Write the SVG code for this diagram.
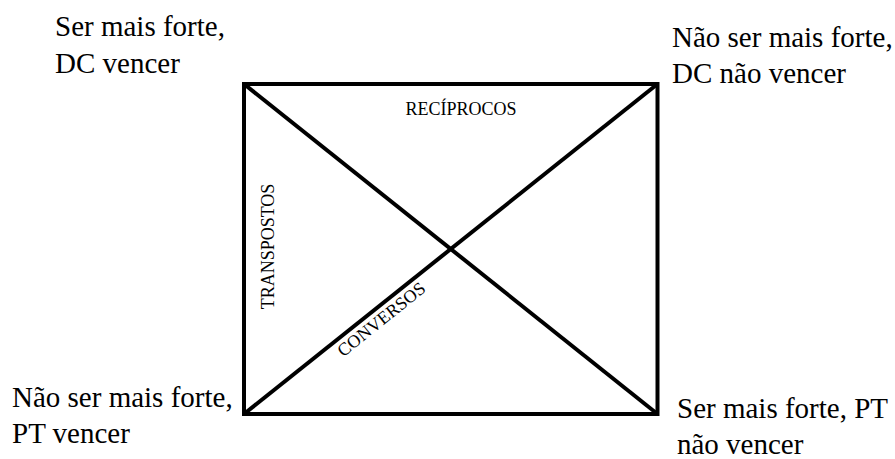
<svg xmlns="http://www.w3.org/2000/svg" width="895" height="459" viewBox="0 0 895 459">
<style>
text{font-family:"Liberation Serif","Times New Roman",Times,serif;fill:#000}
.lbl{font-size:29px}
.sm{font-size:18px}
.ln{stroke:#000;stroke-width:4;fill:none}
</style>
<rect width="895" height="459" fill="#fff"/>
<g id="connectors">
<rect class="ln" x="244" y="84" width="413.5" height="330"/>
<line class="ln" x1="244" y1="84" x2="657.5" y2="414"/>
<line class="ln" x1="244" y1="414" x2="657.5" y2="84"/>
</g>
<g id="n-top-left"><text class="lbl" x="55" y="36">Ser mais forte,</text><text class="lbl" x="55" y="73">DC vencer</text></g>
<g id="n-top-right"><text class="lbl" x="672" y="47">Não ser mais forte,</text><text class="lbl" x="672" y="83">DC não vencer</text></g>
<g id="n-bottom-left"><text class="lbl" x="12" y="407">Não ser mais forte,</text><text class="lbl" x="12" y="443">PT vencer</text></g>
<g id="n-bottom-right"><text class="lbl" x="677" y="418">Ser mais forte, PT</text><text class="lbl" x="677" y="454">não vencer</text></g>
<g id="edge-labels">
<text class="sm" x="461" y="115" text-anchor="middle">RECÍPROCOS</text>
<text class="sm" text-anchor="middle" transform="translate(274,246.5) rotate(-90)">TRANSPOSTOS</text>
<text class="sm" text-anchor="middle" transform="translate(385,324) rotate(-38.6)">CONVERSOS</text>
</g>
</svg>
